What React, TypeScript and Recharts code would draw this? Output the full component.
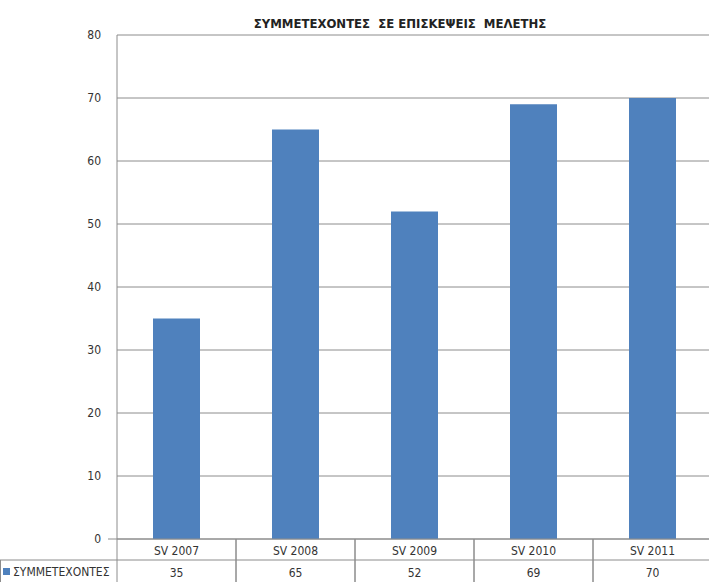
import React from "react";
import { BarChart, Bar, XAxis, YAxis, CartesianGrid } from "recharts";

const categories = ["SV 2007", "SV 2008", "SV 2009", "SV 2010", "SV 2011"];
const participants = [35, 65, 52, 69, 70];
const yTicks = [0, 10, 20, 30, 40, 50, 60, 70, 80];
const seriesName = "ΣΥΜΜΕΤΕΧΟΝΤΕΣ";
const chartTitle = "ΣΥΜΜΕΤΕΧΟΝΤΕΣ  ΣΕ ΕΠΙΣΚΕΨΕΙΣ  ΜΕΛΕΤΗΣ";

const data = categories.map((name, i) => ({ name, value: participants[i] }));

const FONT = '"Liberation Sans Narrow", "DejaVu Sans Condensed", "Open Sans", sans-serif';
const BORDER = "#8c8c8c";
const BLUE = "#4f81bd";
const TEXT = "#333333";

const TableTick = (props: any) => {
  const { x, y, payload, index } = props;
  const half = payload && payload.offset ? payload.offset : 59.5;
  const rowH = 21;
  const tableH = 43;
  const left = x - half;
  const right = x + half;
  return (
    <g>
      <line x1={left} x2={left} y1={y} y2={y + tableH} stroke={BORDER} />
      <line x1={right} x2={right} y1={y} y2={y + tableH} stroke={BORDER} />
      <line x1={left} x2={right} y1={y + rowH} y2={y + rowH} stroke={BORDER} />
      <text x={x} y={y + 16} textAnchor="middle" fontSize={12} fill={TEXT} fontFamily={FONT}>
        {categories[index]}
      </text>
      <text x={x} y={y + 38} textAnchor="middle" fontSize={12} fill={TEXT} fontFamily={FONT}>
        {participants[index]}
      </text>
      {index === 0 && (
        <g>
          <line x1={left - 9} x2={left} y1={y} y2={y} stroke={BORDER} />
          <line x1={0} x2={left} y1={y + rowH} y2={y + rowH} stroke={BORDER} />
          <line x1={0.5} x2={0.5} y1={y + rowH} y2={y + tableH} stroke={BORDER} />
          <rect x={3} y={y + 29} width={7} height={7} fill={BLUE} />
          <text x={13} y={y + 37} fontSize={12} fill={TEXT} fontFamily={FONT}>
            {seriesName}
          </text>
        </g>
      )}
    </g>
  );
};

export default function App() {
  return (
    <div
      style={{
        position: "absolute",
        left: 0,
        top: 0,
        width: 709,
        height: 582,
        overflow: "hidden",
        background: "#ffffff",
        fontFamily: FONT,
      }}
    >
      <div
        style={{
          position: "absolute",
          top: 16,
          left: 0,
          width: 800,
          textAlign: "center",
          fontSize: 13,
          fontWeight: "bold",
          color: "#222",
          whiteSpace: "pre",
        }}
      >
        {chartTitle}
      </div>
      <BarChart
        width={712}
        height={582}
        data={data}
        margin={{ top: 35, right: 0, left: 0, bottom: 0 }}
        barSize={47}
      >
        <CartesianGrid vertical={false} stroke={BORDER} />
        <XAxis
          dataKey="name"
          height={43}
          axisLine={{ stroke: BORDER }}
          tickLine={false}
          tickSize={0}
          tickMargin={0}
          interval={0}
          tick={<TableTick />}
        />
        <YAxis
          width={117}
          domain={[0, 80]}
          ticks={yTicks}
          axisLine={{ stroke: BORDER }}
          tickLine={false}
          tickMargin={10}
          tick={{ fontSize: 12, fill: TEXT, fontFamily: FONT }}
        />
        <Bar dataKey="value" fill={BLUE} isAnimationActive={false} />
      </BarChart>
    </div>
  );
}
